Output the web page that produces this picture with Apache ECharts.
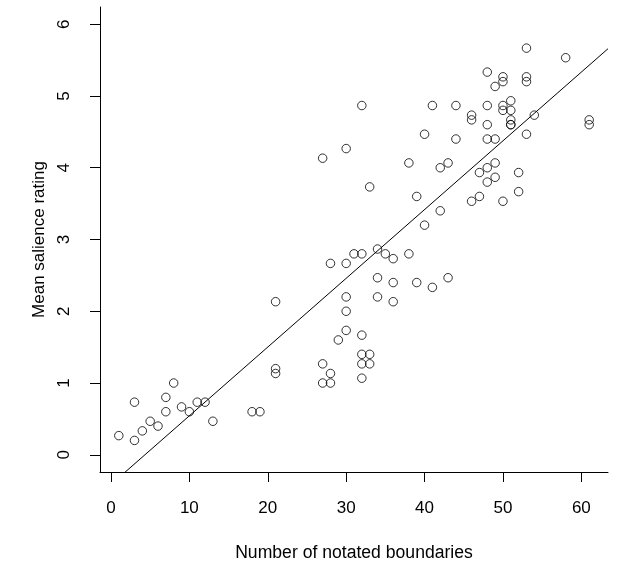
<!DOCTYPE html>
<html lang="en">
<head>
    <meta charset="UTF-8">
    <title>Salience vs boundaries</title>
    <script src="https://cdn.jsdelivr.net/npm/echarts@6/dist/echarts.min.js"></script>
    <style>
        html, body { margin: 0; padding: 0; background: #fff; }
        #chart { width: 639px; height: 563px; }
    </style>
</head>
<body>
    <div id="chart"></div>
    <script>
        // number of notated boundaries per excerpt
        var boundaries = [
            1, 3, 3, 4, 5, 6, 7, 7, 8, 9, 10, 11, 12, 13, 18, 19,
            21, 21, 21, 27, 27, 27, 28, 28, 28, 29,
            30, 30, 30, 30, 30, 31, 32, 32, 32, 32, 32, 32,
            33, 33, 33, 34, 34, 34, 35, 36, 36, 36, 38, 38, 39, 39,
            40, 40, 41, 41, 42, 42, 43, 43, 44, 44, 46, 46, 46, 47, 47,
            48, 48, 48, 48, 48, 48, 49, 49, 49, 49,
            50, 50, 50, 50, 50, 51, 51, 51, 51, 51, 52, 52,
            53, 53, 53, 53, 54, 58, 61, 61
        ];
        // mean salience rating for the same excerpts
        var salience = [
            0.267, 0.2, 0.733, 0.333, 0.467, 0.4, 0.6, 0.8, 1.0, 0.667, 0.6, 0.733, 0.733, 0.467, 0.6, 0.6,
            2.133, 1.2, 1.133, 4.133, 1.267, 1.0, 2.667, 1.133, 1.0, 1.6,
            4.267, 2.667, 2.2, 2.0, 1.733, 2.8, 4.867, 2.8, 1.667, 1.4, 1.267, 1.067,
            3.733, 1.4, 1.267, 2.867, 2.467, 2.2, 2.8, 2.733, 2.4, 2.133, 4.067, 2.8, 3.6, 2.4,
            4.467, 3.2, 4.867, 2.333, 4.0, 3.4, 4.067, 2.467, 4.867, 4.4, 4.733, 4.667, 3.533, 3.933, 3.6,
            5.333, 4.867, 4.6, 4.4, 4.0, 3.8, 5.133, 4.4, 4.067, 3.867,
            5.267, 5.2, 4.867, 4.8, 3.533, 4.933, 4.8, 4.667, 4.6, 4.6, 3.933, 3.667,
            5.667, 5.267, 5.2, 4.467, 4.733, 5.533, 4.667, 4.6
        ];
        var xTicks = [0, 10, 20, 30, 40, 50, 60];
        var yTicks = [0, 1, 2, 3, 4, 5, 6];
        // fitted line (intercept, slope)
        var fitIntercept = -0.415;
        var fitSlope = 0.0958;

        var xMin = -1.4, xMax = 63.4;
        var yMin = -0.24, yMax = 6.24;

        var points = boundaries.map(function (b, i) { return [b, salience[i]]; });
        var fitLine = [
            [xMin, fitIntercept + fitSlope * xMin],
            [xMax, fitIntercept + fitSlope * xMax]
        ];

        var font = { fontFamily: 'Liberation Sans, Arial, sans-serif', fontSize: 17, color: '#000' };

        var chart = echarts.init(document.getElementById('chart'));
        chart.setOption({
            animation: false,
            backgroundColor: '#fff',
            grid: { left: 100, right: 31, top: 7, bottom: 91, containLabel: false, outerBoundsMode: 'none' },
            xAxis: {
                type: 'value',
                min: xMin,
                max: xMax,
                name: 'Number of notated boundaries',
                nameLocation: 'middle',
                nameGap: 72,
                nameTextStyle: Object.assign({}, font, { fontSize: 17.6 }),
                axisLine: { show: true, onZero: false, lineStyle: { color: '#000', width: 1 } },
                axisTick: { show: true, length: 10, customValues: xTicks, lineStyle: { color: '#000' } },
                axisLabel: Object.assign({ margin: 28, customValues: xTicks }, font),
                splitLine: { show: false }
            },
            yAxis: {
                type: 'value',
                min: yMin,
                max: yMax,
                name: 'Mean salience rating',
                nameLocation: 'middle',
                nameGap: 52,
                nameTextStyle: font,
                axisLine: { show: true, onZero: false, lineStyle: { color: '#000', width: 1 } },
                axisTick: { show: true, length: 10, customValues: yTicks, lineStyle: { color: '#000' } },
                axisLabel: Object.assign({ margin: 27, rotate: 90, customValues: yTicks }, font),
                splitLine: { show: false }
            },
            series: [
                {
                    type: 'scatter',
                    data: points,
                    symbol: 'circle',
                    symbolSize: 8.5,
                    itemStyle: { color: 'transparent', borderColor: '#000', borderWidth: 1 }
                },
                {
                    type: 'line',
                    data: fitLine,
                    symbol: 'none',
                    clip: true,
                    lineStyle: { color: '#000', width: 1 }
                }
            ]
        });
    </script>
</body>
</html>
